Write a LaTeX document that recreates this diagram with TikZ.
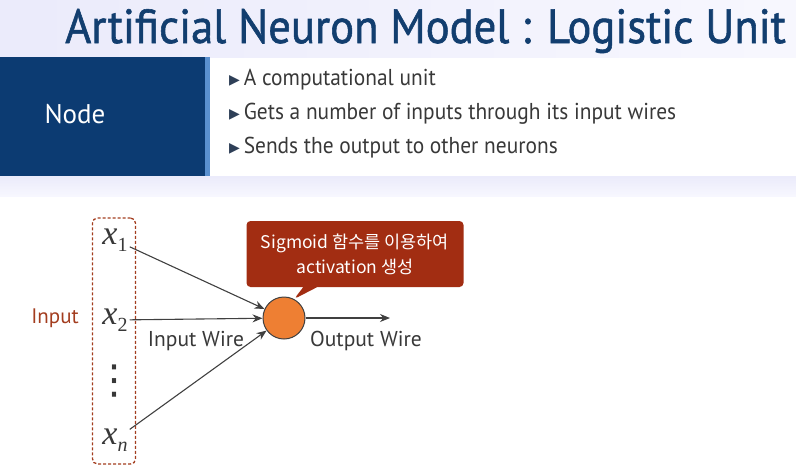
\documentclass[tikz,border=0pt]{standalone}
\usepackage{fontspec}
\setmainfont{PT Sans}
\newfontfamily\titlefont[FakeBold=1.2]{PT Sans}
\newfontfamily\kofont{Noto Sans CJK KR}
\newfontfamily\symfont{DejaVu Sans}
\newfontfamily\varfont{Liberation Serif}
\usetikzlibrary{shapes.callouts,arrows.meta}

\definecolor{navy}{HTML}{0C3B72}
\definecolor{strip}{HTML}{5A90CF}
\definecolor{titleblue}{HTML}{123E6F}
\definecolor{textgray}{HTML}{383838}
\definecolor{bulletblue}{HTML}{2E3F57}
\definecolor{inred}{HTML}{A33D1F}
\definecolor{callred}{HTML}{A22D12}
\definecolor{unitorange}{HTML}{EE7F33}
\definecolor{wiregray}{HTML}{404040}

% input variable with subscript
\newcommand{\xvar}[1]{{\varfont\itshape x}\raisebox{-7pt}{\varfont\fontsize{20}{20}\selectfont #1}}
\newcommand{\bullettext}[1]{{\symfont\fontsize{14}{14}\selectfont\color{bulletblue}\raisebox{1pt}{▶}}\,\scalebox{0.93}[1]{#1}}

\begin{document}
\begin{tikzpicture}[x=1pt,y=-1pt,>={Stealth[length=10pt,width=8pt]},every node/.style={inner sep=0pt},
  wire/.style={->,draw=wiregray,line width=1.1pt},
  xin/.style={inner sep=2pt,text=textgray,font=\fontsize{34}{34}\selectfont},
  lbl/.style={text=textgray,font=\fontsize{21.5}{21.5}\selectfont},
  bul/.style={anchor=west,text=textgray,font=\fontsize{23}{23}\selectfont}]
  \useasboundingbox (0,0) rectangle (796,467);
  % header
  \shade[left color=black!22!blue!8!white,right color=black!8!blue!3!white] (0,0) rectangle (796,57);
  \fill[navy] (0,57) rectangle (205,176);
  \fill[strip] (205,57) rectangle (210,176);
  \shade[top color=black!22!blue!8!white,bottom color=black!5!blue!3!white] (0,176) rectangle (796,196);
  \node[anchor=base west,text=titleblue,font=\titlefont\fontsize{48}{48}\selectfont] (title) at (65,43) {\scalebox{0.93}[1]{Artificial Neuron Model : Logistic Unit}};
  \node[text=white,font=\fontsize{27}{27}\selectfont] (node) at (75,114) {Node};
  \node[bul] (b1) at (229,80) {\bullettext{A computational unit}};
  \node[bul] (b2) at (229,114) {\bullettext{Gets a number of inputs through its input wires}};
  \node[bul] (b3) at (229,148) {\bullettext{Sends the output to other neurons}};
  % neuron
  \node[draw=inred,dash pattern=on 3pt off 2pt,rounded corners=5pt,line width=1.3pt,minimum width=43pt,minimum height=246pt] (inbox) at (114,341) {};
  \node[text=inred,font=\fontsize{21}{21}\selectfont] (input) at (55,318) {Input};
  \node[xin] (x1) at (115,240) {\xvar{1}};
  \node[xin] (x2) at (115,320) {\xvar{2}};
  \node[text=textgray,font=\symfont\fontsize{40}{40}\selectfont] (dots) at (114,381) {⋮};
  \node[xin] (xn) at (115,440) {\xvar{\itshape n}};
  \node[circle,draw=wiregray,fill=unitorange,line width=1pt,minimum size=42pt] (unit) at (284,318) {};
  \coordinate (out) at (390,318);
  \draw[wire] (x1) -- (unit);
  \draw[wire] (x2) -- (unit);
  \draw[wire] (xn) -- (unit);
  \draw[wire] (unit) -- (out);
  \node[lbl] (inwire) at (196,341) {Input Wire};
  \node[lbl] (outwire) at (366,341) {Output Wire};
  \node[rectangle callout,callout absolute pointer={(unit.62)},callout pointer width=14pt,fill=callred,rounded corners=4pt,
    minimum width=217pt,minimum height=66pt,text=white,align=center,font=\kofont\fontsize{17.5}{25}\selectfont] (tip) at (355,254)
    {Sigmoid 함수를 이용하여\\activation 생성};
\end{tikzpicture}
\end{document}
